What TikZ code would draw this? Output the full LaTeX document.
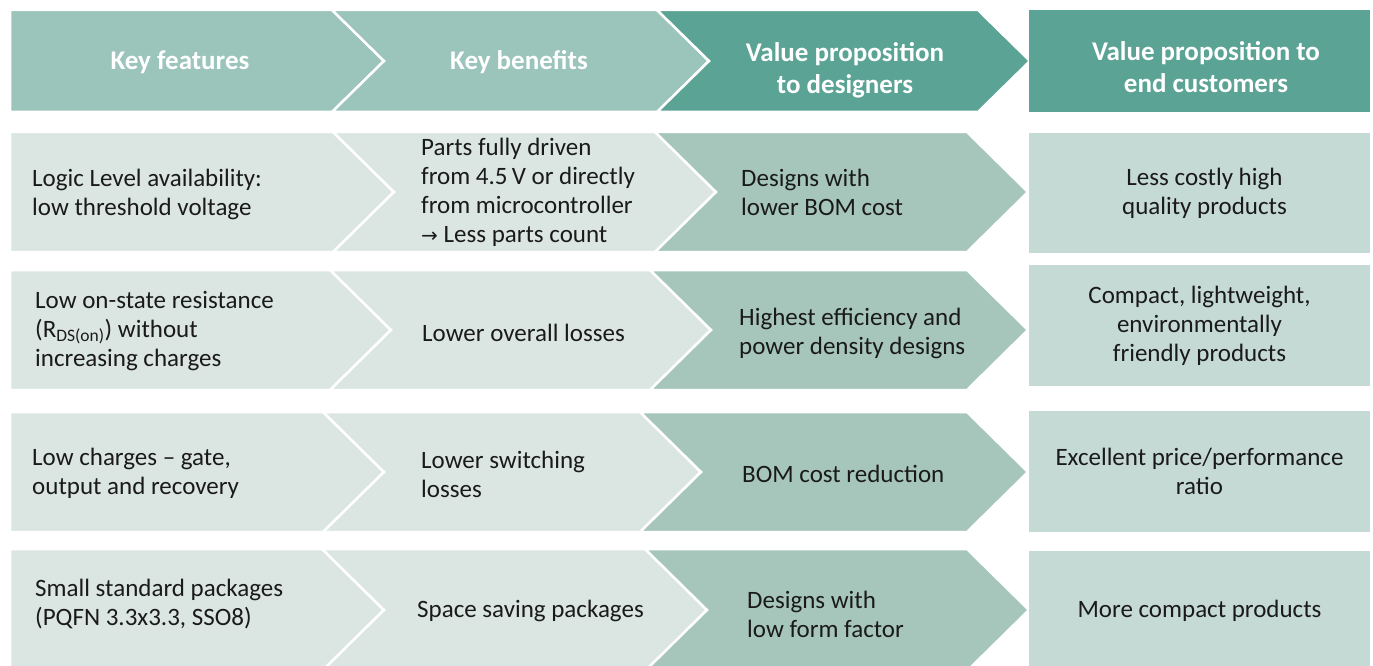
\documentclass[tikz,border=0pt]{standalone}
\usepackage{fontspec}
\setmainfont{Carlito}
\newfontfamily\arrowfont{DejaVu Sans}
\usetikzlibrary{calc}
\definecolor{headlight}{RGB}{155,196,186}
\definecolor{headdark}{RGB}{91,163,148}
\definecolor{bodylight}{RGB}{219,230,227}
\definecolor{bodymid}{RGB}{166,198,188}
\definecolor{bodyend}{RGB}{198,218,213}
\definecolor{textdark}{RGB}{26,26,26}

% chevron: fill, left x, right x, top y, bottom y, notch (1) or flat (0)
\newcommand{\chev}[6]{%
  \pgfmathsetmacro{\ymid}{(#4+#5)/2}%
  \pgfmathsetmacro{\tipd}{(#5-#4)/2+1}%
  \filldraw[chevline, fill=#1] (#2,#4) -- (#3,#4) -- ({#3+\tipd},\ymid) -- (#3,#5)
    -- (#2,#5) -- ({#2+#6*\tipd},\ymid) -- cycle;}

\begin{document}
\begin{tikzpicture}[
    x=1pt, y=-1pt,
    chevline/.style={draw=white, line width=2.5pt, line join=miter},
    headtext/.style={text=white, font=\fontsize{27}{32}\selectfont\bfseries, align=center},
    celltext/.style={text=textdark, font=\fontsize{25}{29}\selectfont, align=left, anchor=west, inner sep=0pt},
    endbox/.style={fill=#1, minimum width=341pt, inner sep=0pt, align=center, text=textdark, font=\fontsize{25}{29}\selectfont}
]
    \useasboundingbox (0,0) rectangle (1373,666);
    \clip (0,0) rectangle (1373,666);

    % Header row
    \chev{headlight}{10}{332}{10}{112}{0}
    \chev{headlight}{332}{657}{10}{112}{1}
    \chev{headdark}{657}{978}{10}{112}{1}
    \fill[headdark] (1029,10) rectangle (1370,112);
    \node[headtext] (hf) at (180,62) {Key features};
    \node[headtext] (hb) at (519,62) {Key benefits};
    \node[headtext] (hd) at (845,70) {Value proposition\\to designers};
    \node[headtext] (hc) at (1206,67) {Value proposition to\\end customers};

    % Body rows
    \foreach \yt/\yb/\xa/\xb in {132/252/333/655, 270/390/330/650, 412/532/323/640, 549/671/322/645} {
        \chev{bodylight}{10}{\xa}{\yt}{\yb}{0}
        \chev{bodylight}{\xa}{\xb}{\yt}{\yb}{1}
        \chev{bodymid}{\xb}{967}{\yt}{\yb}{1}
    }

    % Row 1
    \node[celltext] (f1) at (32,194) {Logic Level availability:\\low threshold voltage};
    \node[celltext] (b1) at (421,192) {Parts fully driven\\from 4.5\,V or directly\\from microcontroller\\{\arrowfont\fontsize{20}{29}\selectfont →} Less parts count};
    \node[celltext] (d1) at (741,192) {Designs with\\lower BOM cost};
    \node[endbox=bodyend, minimum height=120pt] (c1) at (1199.5,193) {\hspace{10pt}Less costly high\\\hspace{10pt}quality products};

    % Row 2
    \node[celltext] (f2) at (35,331) {Low on-state resistance\\(R\textsubscript{DS(on)}) without\\increasing charges};
    \node[celltext] (b2) at (422,333) {Lower overall losses};
    \node[celltext] (d2) at (739,333) {Highest efficiency and\\power density designs};
    \node[endbox=bodyend, minimum height=121pt] (c2) at (1199.5,325.5) {Compact, lightweight,\\environmentally\\friendly products};

    % Row 3
    \node[celltext] (f3) at (32,473) {Low charges – gate,\\output and recovery};
    \node[celltext] (b3) at (421,474) {Lower switching\\losses};
    \node[celltext] (d3) at (742,474) {BOM cost reduction};
    \node[endbox=bodyend, minimum height=121pt] (c3) at (1199.5,471.5) {Excellent price/performance\\ratio};

    % Row 4
    \node[celltext] (f4) at (35,604) {Small standard packages\\(PQFN 3.3x3.3, SSO8)};
    \node[celltext] (b4) at (417,611) {Space saving packages};
    \node[celltext] (d4) at (747,614) {Designs with\\low form factor};
    \node[endbox=bodyend, minimum height=120pt] (c4) at (1199.5,611) {More compact products};
\end{tikzpicture}
\end{document}
